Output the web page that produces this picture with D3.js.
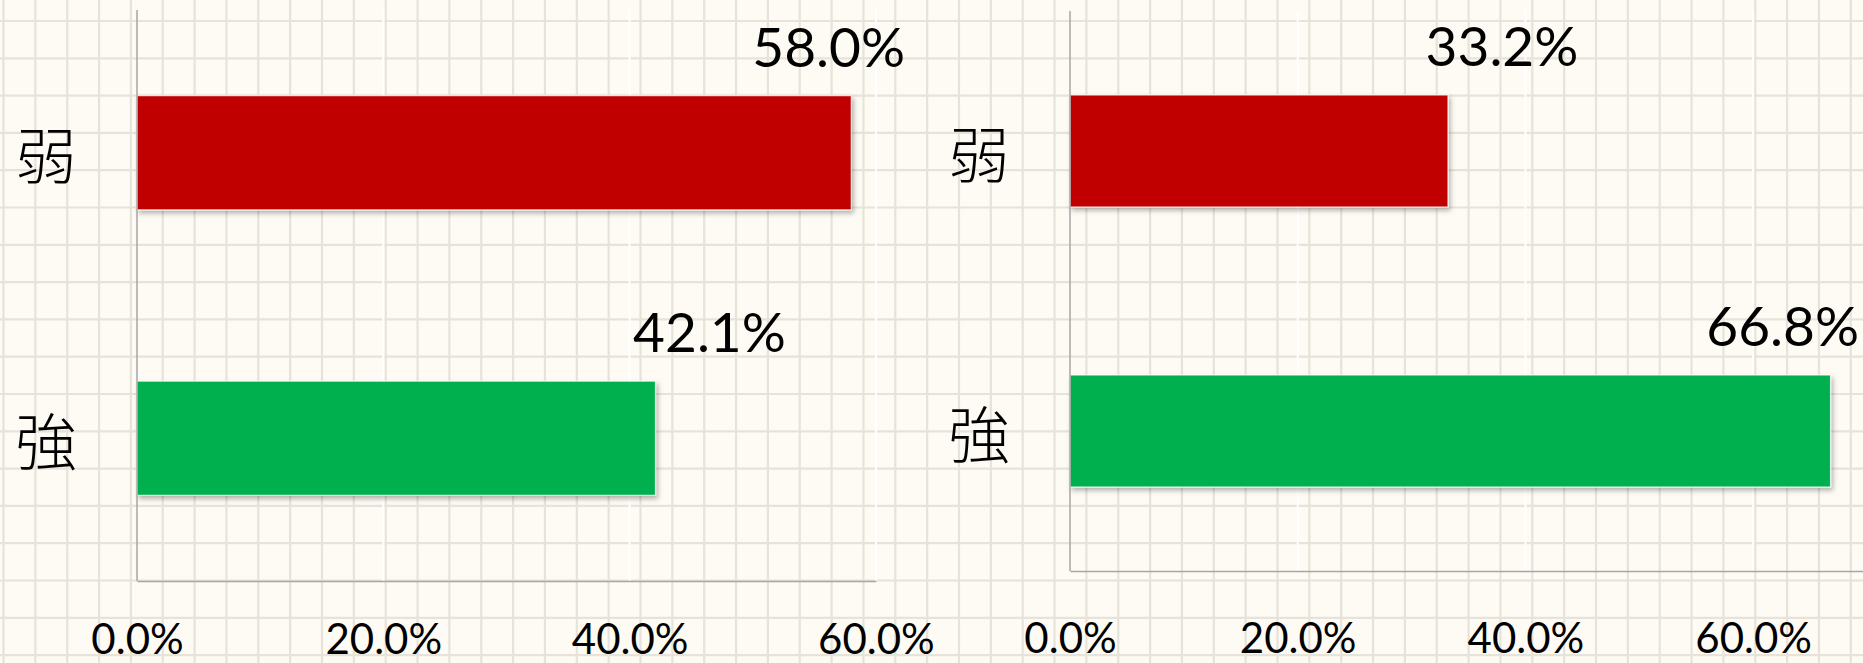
<!DOCTYPE html>
<html>
<head>
<meta charset="utf-8">
<script src="https://cdn.jsdelivr.net/npm/d3@7"></script>
<style>
  html, body { margin: 0; padding: 0; background: #fdfbf4; }
  svg { display: block; }
</style>
</head>
<body>
<div class="chart"></div>
<script>
// data
let categories = ["弱", "強"];
let leftValues = [0.580, 0.421];
let rightValues = [0.332, 0.668];
let tickValues = [0, 0.2, 0.4, 0.6];

let barColors = ["#C00000", "#00B050"];

let width = 1863, height = 663;
let numFont = "Lato, 'Open Sans', sans-serif";
let cjkFont = "'Noto Sans CJK JP', sans-serif";

let svg = d3.select("div.chart").append("svg")
  .attr("width", width)
  .attr("height", height);

// drop shadow for bars
let defs = svg.append("defs");
let shadow = defs.append("filter")
  .attr("id", "shadow")
  .attr("x", "-5%").attr("y", "-10%")
  .attr("width", "115%").attr("height", "130%");
shadow.append("feDropShadow")
  .attr("dx", 2).attr("dy", 3)
  .attr("stdDeviation", 2.5)
  .attr("flood-color", "#000")
  .attr("flood-opacity", 0.3);

// graph paper background
let paper = svg.append("g");
paper.append("rect")
  .attr("width", width).attr("height", height)
  .attr("fill", "#fdfbf4");
paper.selectAll(".vgrid")
  .data(d3.range(3.5, width, 31.85))
  .enter().append("line")
  .attr("x1", d => d).attr("x2", d => d)
  .attr("y1", 0).attr("y2", height)
  .attr("stroke", "#e7e3da")
  .attr("stroke-width", 2.2);
paper.selectAll(".hgrid")
  .data(d3.range(21, height, 37.3))
  .enter().append("line")
  .attr("x1", 0).attr("x2", width)
  .attr("y1", d => d).attr("y2", d => d)
  .attr("stroke", "#e7e3da")
  .attr("stroke-width", 2.2);

function drawChart(cfg, values) {
  let x = d3.scaleLinear()
    .domain([0, cfg.max])
    .range([cfg.left, cfg.left + cfg.max / 0.2 * cfg.step]);

  let y = d3.scaleBand()
    .domain(categories)
    .range([cfg.top, cfg.bottom])
    .paddingInner(0.6)
    .paddingOuter(0.3);

  let g = svg.append("g");

  // white major gridlines
  g.selectAll(".grid")
    .data(x.ticks(cfg.max / 0.2).filter(d => d > 0))
    .enter().append("line")
    .attr("x1", d => x(d)).attr("x2", d => x(d))
    .attr("y1", cfg.top).attr("y2", cfg.bottom)
    .attr("stroke", "#ffffff")
    .attr("stroke-width", 2);

  g.selectAll(".bar")
    .data(values)
    .enter().append("rect")
    .attr("x", x(0))
    .attr("y", (d, i) => y(categories[i]))
    .attr("width", d => x(d) - x(0))
    .attr("height", y.bandwidth())
    .attr("fill", (d, i) => barColors[i])
    .attr("stroke", "#ffffff")
    .attr("stroke-opacity", 0.75)
    .attr("stroke-width", 1.2)
    .attr("filter", "url(#shadow)");

  // vertical axis
  g.append("line")
    .attr("x1", x(0)).attr("x2", x(0))
    .attr("y1", cfg.top).attr("y2", cfg.bottom)
    .attr("stroke", "#a6a6a6")
    .attr("stroke-width", 1.5);

  // horizontal axis, labels sit far below the line
  let axis = g.append("g")
    .attr("transform", "translate(0," + cfg.bottom + ")")
    .call(d3.axisBottom(x)
      .tickValues(tickValues)
      .tickFormat(d3.format(".1%"))
      .tickSize(0)
      .tickSizeOuter(0)
      .tickPadding(cfg.tickPad));
  axis.select(".domain")
    .attr("stroke", "#a6a6a6")
    .attr("stroke-width", 1.5);
  axis.selectAll("text")
    .attr("font-family", numFont)
    .attr("font-size", 42)
    .attr("fill", "#000");

  // category labels
  g.selectAll(".cat")
    .data(categories)
    .enter().append("text")
    .attr("x", x(0) - 91)
    .attr("y", d => y(d) + y.bandwidth() / 2)
    .attr("text-anchor", "middle")
    .attr("dominant-baseline", "central")
    .attr("font-family", cjkFont)
    .attr("font-weight", 300)
    .attr("font-size", 61)
    .attr("fill", "#000")
    .text(d => d);

  // value labels above the bar end, kept inside the chart
  let fmt = d3.format(".1%");
  g.selectAll(".val")
    .data(values)
    .enter().append("text")
    .attr("y", (d, i) => y(categories[i]) - 29)
    .attr("text-anchor", "end")
    .attr("font-family", numFont)
    .attr("font-size", 55)
    .attr("fill", "#000")
    .text(d => fmt(d))
    .attr("x", function(d) {
      let w = this.getComputedTextLength();
      return Math.min(x(d) + 54 + w / 2, cfg.right);
    });
}

drawChart({left: 137, step: 246.3, max: 0.6, top: 10, bottom: 581, right: 905, tickPad: 43}, leftValues);
drawChart({left: 1070, step: 227.7, max: 0.8, top: 11, bottom: 571, right: 1859, tickPad: 52}, rightValues);
</script>
</body>
</html>
